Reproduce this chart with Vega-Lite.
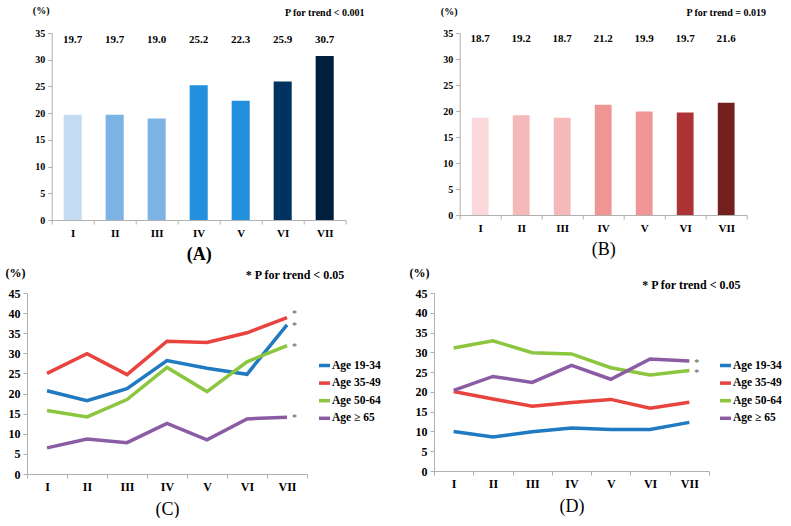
{
  "$schema": "https://vega.github.io/schema/vega-lite/v6.json",
  "background": "white",
  "padding": {"left": 5, "top": 5, "right": 0, "bottom": 0},
  "config": {
    "font": "Liberation Serif",
    "view": {"stroke": null},
    "text": {"font": "Liberation Serif"},
    "axis": {
      "grid": false,
      "domainColor": "#b0b0b0",
      "tickColor": "#b0b0b0",
      "tickSize": 4,
      "labelFont": "Liberation Serif",
      "labelFontWeight": "bold",
      "labelFontSize": 10,
      "labelColor": "#000000",
      "labelPadding": 3,
      "labelOverlap": false,
      "titleFont": "Liberation Serif",
      "titleColor": "#000000",
      "minExtent": 0
    },
    "axisX": {"labelAngle": 0, "tickBand": "extent", "labelFontSize": 11},
    "axisY": {"minExtent": 0, "labelOverlap": false},
    "legend": {
      "symbolType": "stroke",
      "symbolStrokeWidth": 3.5,
      "symbolSize": 121,
      "labelFont": "Liberation Serif",
      "labelFontWeight": "bold",
      "labelFontSize": 11.5,
      "labelColor": "#000000",
      "labelOffset": 0,
      "rowPadding": 2.6,
      "padding": 0
    }
  },
  "datasets": {
    "bars": [
      {"panel": "A", "cat": "I", "value": 19.7},
      {"panel": "A", "cat": "II", "value": 19.7},
      {"panel": "A", "cat": "III", "value": 19.0},
      {"panel": "A", "cat": "IV", "value": 25.2},
      {"panel": "A", "cat": "V", "value": 22.3},
      {"panel": "A", "cat": "VI", "value": 25.9},
      {"panel": "A", "cat": "VII", "value": 30.7},
      {"panel": "B", "cat": "I", "value": 18.7},
      {"panel": "B", "cat": "II", "value": 19.2},
      {"panel": "B", "cat": "III", "value": 18.7},
      {"panel": "B", "cat": "IV", "value": 21.2},
      {"panel": "B", "cat": "V", "value": 19.9},
      {"panel": "B", "cat": "VI", "value": 19.7},
      {"panel": "B", "cat": "VII", "value": 21.6}
    ],
    "notes": [
      {"panel": "A", "note": "P for trend < 0.001"},
      {"panel": "B", "note": "P for trend = 0.019"},
      {"panel": "C", "note": "* P for trend < 0.05"},
      {"panel": "D", "note": "* P for trend < 0.05"}
    ],
    "lines": [
      {"panel": "C", "group": "Age 19-34", "cat": "I", "value": 20.7, "sig": 1},
      {"panel": "C", "group": "Age 19-34", "cat": "II", "value": 18.2, "sig": 1},
      {"panel": "C", "group": "Age 19-34", "cat": "III", "value": 21.2, "sig": 1},
      {"panel": "C", "group": "Age 19-34", "cat": "IV", "value": 28.2, "sig": 1},
      {"panel": "C", "group": "Age 19-34", "cat": "V", "value": 26.3, "sig": 1},
      {"panel": "C", "group": "Age 19-34", "cat": "VI", "value": 24.8, "sig": 1},
      {"panel": "C", "group": "Age 19-34", "cat": "VII", "value": 37.1, "sig": 1},
      {"panel": "C", "group": "Age 35-49", "cat": "I", "value": 25.0, "sig": 1},
      {"panel": "C", "group": "Age 35-49", "cat": "II", "value": 29.9, "sig": 1},
      {"panel": "C", "group": "Age 35-49", "cat": "III", "value": 24.7, "sig": 1},
      {"panel": "C", "group": "Age 35-49", "cat": "IV", "value": 33.0, "sig": 1},
      {"panel": "C", "group": "Age 35-49", "cat": "V", "value": 32.7, "sig": 1},
      {"panel": "C", "group": "Age 35-49", "cat": "VI", "value": 35.1, "sig": 1},
      {"panel": "C", "group": "Age 35-49", "cat": "VII", "value": 38.9, "sig": 1},
      {"panel": "C", "group": "Age 50-64", "cat": "I", "value": 15.8, "sig": 1},
      {"panel": "C", "group": "Age 50-64", "cat": "II", "value": 14.2, "sig": 1},
      {"panel": "C", "group": "Age 50-64", "cat": "III", "value": 18.5, "sig": 1},
      {"panel": "C", "group": "Age 50-64", "cat": "IV", "value": 26.5, "sig": 1},
      {"panel": "C", "group": "Age 50-64", "cat": "V", "value": 20.5, "sig": 1},
      {"panel": "C", "group": "Age 50-64", "cat": "VI", "value": 27.9, "sig": 1},
      {"panel": "C", "group": "Age 50-64", "cat": "VII", "value": 31.9, "sig": 1},
      {"panel": "C", "group": "Age ≥ 65", "cat": "I", "value": 6.5, "sig": 1},
      {"panel": "C", "group": "Age ≥ 65", "cat": "II", "value": 8.7, "sig": 1},
      {"panel": "C", "group": "Age ≥ 65", "cat": "III", "value": 7.8, "sig": 1},
      {"panel": "C", "group": "Age ≥ 65", "cat": "IV", "value": 12.6, "sig": 1},
      {"panel": "C", "group": "Age ≥ 65", "cat": "V", "value": 8.5, "sig": 1},
      {"panel": "C", "group": "Age ≥ 65", "cat": "VI", "value": 13.7, "sig": 1},
      {"panel": "C", "group": "Age ≥ 65", "cat": "VII", "value": 14.1, "sig": 1},
      {"panel": "D", "group": "Age 19-34", "cat": "I", "value": 10.0, "sig": 0},
      {"panel": "D", "group": "Age 19-34", "cat": "II", "value": 8.6, "sig": 0},
      {"panel": "D", "group": "Age 19-34", "cat": "III", "value": 9.9, "sig": 0},
      {"panel": "D", "group": "Age 19-34", "cat": "IV", "value": 10.9, "sig": 0},
      {"panel": "D", "group": "Age 19-34", "cat": "V", "value": 10.5, "sig": 0},
      {"panel": "D", "group": "Age 19-34", "cat": "VI", "value": 10.5, "sig": 0},
      {"panel": "D", "group": "Age 19-34", "cat": "VII", "value": 12.3, "sig": 0},
      {"panel": "D", "group": "Age 35-49", "cat": "I", "value": 20.1, "sig": 0},
      {"panel": "D", "group": "Age 35-49", "cat": "II", "value": 18.2, "sig": 0},
      {"panel": "D", "group": "Age 35-49", "cat": "III", "value": 16.4, "sig": 0},
      {"panel": "D", "group": "Age 35-49", "cat": "IV", "value": 17.3, "sig": 0},
      {"panel": "D", "group": "Age 35-49", "cat": "V", "value": 18.1, "sig": 0},
      {"panel": "D", "group": "Age 35-49", "cat": "VI", "value": 15.9, "sig": 0},
      {"panel": "D", "group": "Age 35-49", "cat": "VII", "value": 17.4, "sig": 0},
      {"panel": "D", "group": "Age 50-64", "cat": "I", "value": 31.1, "sig": 1},
      {"panel": "D", "group": "Age 50-64", "cat": "II", "value": 32.9, "sig": 1},
      {"panel": "D", "group": "Age 50-64", "cat": "III", "value": 29.9, "sig": 1},
      {"panel": "D", "group": "Age 50-64", "cat": "IV", "value": 29.6, "sig": 1},
      {"panel": "D", "group": "Age 50-64", "cat": "V", "value": 26.1, "sig": 1},
      {"panel": "D", "group": "Age 50-64", "cat": "VI", "value": 24.3, "sig": 1},
      {"panel": "D", "group": "Age 50-64", "cat": "VII", "value": 25.4, "sig": 1},
      {"panel": "D", "group": "Age ≥ 65", "cat": "I", "value": 20.4, "sig": 1},
      {"panel": "D", "group": "Age ≥ 65", "cat": "II", "value": 23.9, "sig": 1},
      {"panel": "D", "group": "Age ≥ 65", "cat": "III", "value": 22.4, "sig": 1},
      {"panel": "D", "group": "Age ≥ 65", "cat": "IV", "value": 26.7, "sig": 1},
      {"panel": "D", "group": "Age ≥ 65", "cat": "V", "value": 23.2, "sig": 1},
      {"panel": "D", "group": "Age ≥ 65", "cat": "VI", "value": 28.3, "sig": 1},
      {"panel": "D", "group": "Age ≥ 65", "cat": "VII", "value": 27.8, "sig": 1}
    ]
  },
  "center": true,
  "spacing": 3,
  "resolve": {"scale": {"color": "independent"}},
  "vconcat": [
    {
      "spacing": 74,
      "resolve": {"scale": {"color": "independent"}},
      "hconcat": [
        {
          "width": 294,
          "height": 187,
          "layer": [
            {
              "data": {"name": "bars"},
              "transform": [{"filter": "datum.panel === 'A'"}],
              "mark": {"type": "bar", "width": {"band": 0.43}},
              "encoding": {
                "x": {"field": "cat", "type": "ordinal", "scale": {"domain": ["I","II","III","IV","V","VI","VII"], "paddingInner": 0, "paddingOuter": 0},
                  "axis": {"title": "(A)", "titleFontSize": 18, "titleFontWeight": "bold", "titlePadding": 7}},
                "y": {"field": "value", "type": "quantitative", "scale": {"domain": [0, 35]},
                  "axis": {"values": [0,5,10,15,20,25,30,35], "title": "(%)", "titleAngle": 0, "titleAlign": "center", "titleBaseline": "middle", "titleX": -11, "titleY": -23, "titleFontSize": 10, "titleFontWeight": "bold"}},
                "color": {"field": "cat", "type": "ordinal", "scale": {"domain": ["I","II","III","IV","V","VI","VII"], "range": ["#c3dcf2","#7db3e4","#7db3e4","#2290dc","#2290dc","#003262","#001f3f"]}, "legend": null}
              }
            },
            {
              "data": {"name": "bars"},
              "transform": [{"filter": "datum.panel === 'A'"}],
              "mark": {"type": "text", "fontWeight": "bold", "fontSize": 11, "baseline": "middle", "dy": 7},
              "encoding": {
                "x": {"field": "cat", "type": "ordinal", "bandPosition": 0.5, "scale": {"domain": ["I","II","III","IV","V","VI","VII"], "paddingInner": 0, "paddingOuter": 0},
                  "axis": {"title": "(A)", "titleFontSize": 18, "titleFontWeight": "bold", "titlePadding": 7}},
                "y": {"datum": 35, "type": "quantitative",
                  "axis": {"values": [0,5,10,15,20,25,30,35], "title": "(%)", "titleAngle": 0, "titleAlign": "center", "titleBaseline": "middle", "titleX": -11, "titleY": -23, "titleFontSize": 10, "titleFontWeight": "bold"}},
                "text": {"field": "value", "type": "quantitative", "format": ".1f"}
              }
            },
            {
              "data": {"name": "notes"},
              "transform": [{"filter": "datum.panel === 'A'"}],
              "mark": {"type": "text", "fontWeight": "bold", "fontSize": 10, "baseline": "middle", "dy": -20},
              "encoding": {
                "x": {"datum": "VII", "type": "ordinal", "bandPosition": 0.5, "scale": {"domain": ["I","II","III","IV","V","VI","VII"], "paddingInner": 0, "paddingOuter": 0},
                  "axis": {"title": "(A)", "titleFontSize": 18, "titleFontWeight": "bold", "titlePadding": 7}},
                "y": {"datum": 35, "type": "quantitative",
                  "axis": {"values": [0,5,10,15,20,25,30,35], "title": "(%)", "titleAngle": 0, "titleAlign": "center", "titleBaseline": "middle", "titleX": -11, "titleY": -23, "titleFontSize": 10, "titleFontWeight": "bold"}},
                "text": {"field": "note"}
              }
            }
          ]
        },
        {
          "width": 287,
          "height": 182,
          "layer": [
            {
              "data": {"name": "bars"},
              "transform": [{"filter": "datum.panel === 'B'"}],
              "mark": {"type": "bar", "width": {"band": 0.41}},
              "encoding": {
                "x": {"field": "cat", "type": "ordinal", "scale": {"domain": ["I","II","III","IV","V","VI","VII"], "paddingInner": 0, "paddingOuter": 0},
                  "axis": {"title": "(B)", "titleFontSize": 18, "titleFontWeight": "normal", "titlePadding": 7}},
                "y": {"field": "value", "type": "quantitative", "scale": {"domain": [0, 35]},
                  "axis": {"values": [0,5,10,15,20,25,30,35], "title": "(%)", "titleAngle": 0, "titleAlign": "center", "titleBaseline": "middle", "titleX": -11, "titleY": -22, "titleFontSize": 10, "titleFontWeight": "bold"}},
                "color": {"field": "cat", "type": "ordinal", "scale": {"domain": ["I","II","III","IV","V","VI","VII"], "range": ["#fbd9da","#f6b9b9","#f6b9b9","#ef9694","#ef9694","#ad3436","#73201f"]}, "legend": null}
              }
            },
            {
              "data": {"name": "bars"},
              "transform": [{"filter": "datum.panel === 'B'"}],
              "mark": {"type": "text", "fontWeight": "bold", "fontSize": 11, "baseline": "middle", "dy": 6},
              "encoding": {
                "x": {"field": "cat", "type": "ordinal", "bandPosition": 0.5, "scale": {"domain": ["I","II","III","IV","V","VI","VII"], "paddingInner": 0, "paddingOuter": 0},
                  "axis": {"title": "(B)", "titleFontSize": 18, "titleFontWeight": "normal", "titlePadding": 7}},
                "y": {"datum": 35, "type": "quantitative",
                  "axis": {"values": [0,5,10,15,20,25,30,35], "title": "(%)", "titleAngle": 0, "titleAlign": "center", "titleBaseline": "middle", "titleX": -11, "titleY": -22, "titleFontSize": 10, "titleFontWeight": "bold"}},
                "text": {"field": "value", "type": "quantitative", "format": ".1f"}
              }
            },
            {
              "data": {"name": "notes"},
              "transform": [{"filter": "datum.panel === 'B'"}],
              "mark": {"type": "text", "fontWeight": "bold", "fontSize": 10, "baseline": "middle", "dy": -20},
              "encoding": {
                "x": {"datum": "VII", "type": "ordinal", "bandPosition": 0.5, "scale": {"domain": ["I","II","III","IV","V","VI","VII"], "paddingInner": 0, "paddingOuter": 0},
                  "axis": {"title": "(B)", "titleFontSize": 18, "titleFontWeight": "normal", "titlePadding": 7}},
                "y": {"datum": 35, "type": "quantitative",
                  "axis": {"values": [0,5,10,15,20,25,30,35], "title": "(%)", "titleAngle": 0, "titleAlign": "center", "titleBaseline": "middle", "titleX": -11, "titleY": -22, "titleFontSize": 10, "titleFontWeight": "bold"}},
                "text": {"field": "note"}
              }
            }
          ]
        }
      ]
    },
    {
      "spacing": 28,
      "resolve": {"scale": {"color": "independent"}},
      "hconcat": [
        {
          "width": 280,
          "height": 181,
          "layer": [
            {
              "data": {"name": "lines"},
              "transform": [{"filter": "datum.panel === 'C'"}],
              "mark": {"type": "line", "strokeWidth": 3.5},
              "encoding": {
                "x": {"field": "cat", "type": "ordinal", "bandPosition": 0.5, "scale": {"type": "band", "domain": ["I","II","III","IV","V","VI","VII"], "paddingInner": 0, "paddingOuter": 0},
                  "axis": {"title": "(C)", "titleFontSize": 18, "titleFontWeight": "normal", "titlePadding": 8, "labelFontSize": 12}},
                "y": {"field": "value", "type": "quantitative", "scale": {"domain": [0, 45]},
                  "axis": {"values": [0,5,10,15,20,25,30,35,40,45], "labelFontSize": 12, "title": "(%)", "titleAngle": 0, "titleAlign": "center", "titleBaseline": "middle", "titleX": -12, "titleY": -21, "titleFontSize": 12, "titleFontWeight": "bold"}},
                "color": {"field": "group", "type": "nominal", "scale": {"domain": ["Age 19-34","Age 35-49","Age 50-64","Age ≥ 65"], "range": ["#1f7ac2","#e8433e","#8cc63e","#8b5ca4"]},
                  "legend": {"title": null, "orient": "none", "legendX": 290, "legendY": 65}}
              }
            },
            {
              "data": {"name": "lines"},
              "transform": [{"filter": "datum.panel === 'C' && datum.cat === 'VII' && datum.sig === 1 && datum.group !== 'Age 35-49'"}],
              "mark": {"type": "text", "fontSize": 10, "fill": "#555555", "align": "left", "baseline": "middle", "dx": 5, "dy": 1},
              "encoding": {
                "x": {"field": "cat", "type": "ordinal", "bandPosition": 0.5, "scale": {"type": "band", "domain": ["I","II","III","IV","V","VI","VII"], "paddingInner": 0, "paddingOuter": 0},
                  "axis": {"title": "(C)", "titleFontSize": 18, "titleFontWeight": "normal", "titlePadding": 8, "labelFontSize": 12}},
                "y": {"field": "value", "type": "quantitative",
                  "axis": {"values": [0,5,10,15,20,25,30,35,40,45], "labelFontSize": 12, "title": "(%)", "titleAngle": 0, "titleAlign": "center", "titleBaseline": "middle", "titleX": -12, "titleY": -21, "titleFontSize": 12, "titleFontWeight": "bold"}},
                "text": {"value": "*"}
              }
            },
            {
              "data": {"name": "lines"},
              "transform": [{"filter": "datum.panel === 'C' && datum.cat === 'VII' && datum.sig === 1 && datum.group === 'Age 35-49'"}],
              "mark": {"type": "text", "fontSize": 10, "fill": "#555555", "align": "left", "baseline": "middle", "dx": 5, "dy": -4},
              "encoding": {
                "x": {"field": "cat", "type": "ordinal", "bandPosition": 0.5, "scale": {"type": "band", "domain": ["I","II","III","IV","V","VI","VII"], "paddingInner": 0, "paddingOuter": 0},
                  "axis": {"title": "(C)", "titleFontSize": 18, "titleFontWeight": "normal", "titlePadding": 8, "labelFontSize": 12}},
                "y": {"field": "value", "type": "quantitative",
                  "axis": {"values": [0,5,10,15,20,25,30,35,40,45], "labelFontSize": 12, "title": "(%)", "titleAngle": 0, "titleAlign": "center", "titleBaseline": "middle", "titleX": -12, "titleY": -21, "titleFontSize": 12, "titleFontWeight": "bold"}},
                "text": {"value": "*"}
              }
            },
            {
              "data": {"name": "notes"},
              "transform": [{"filter": "datum.panel === 'C'"}],
              "mark": {"type": "text", "fontWeight": "bold", "fontSize": 12, "baseline": "middle", "dx": 8, "dy": -18},
              "encoding": {
                "x": {"datum": "VII", "type": "ordinal", "bandPosition": 0.5, "scale": {"type": "band", "domain": ["I","II","III","IV","V","VI","VII"], "paddingInner": 0, "paddingOuter": 0},
                  "axis": {"title": "(C)", "titleFontSize": 18, "titleFontWeight": "normal", "titlePadding": 8, "labelFontSize": 12}},
                "y": {"datum": 45, "type": "quantitative",
                  "axis": {"values": [0,5,10,15,20,25,30,35,40,45], "labelFontSize": 12, "title": "(%)", "titleAngle": 0, "titleAlign": "center", "titleBaseline": "middle", "titleX": -12, "titleY": -21, "titleFontSize": 12, "titleFontWeight": "bold"}},
                "text": {"field": "note"}
              }
            }
          ]
        },
        {
          "width": 275,
          "height": 178,
          "layer": [
            {
              "data": {"name": "lines"},
              "transform": [{"filter": "datum.panel === 'D'"}],
              "mark": {"type": "line", "strokeWidth": 3.5},
              "encoding": {
                "x": {"field": "cat", "type": "ordinal", "bandPosition": 0.5, "scale": {"type": "band", "domain": ["I","II","III","IV","V","VI","VII"], "paddingInner": 0, "paddingOuter": 0},
                  "axis": {"title": "(D)", "titleFontSize": 18, "titleFontWeight": "normal", "titlePadding": 8, "labelFontSize": 12}},
                "y": {"field": "value", "type": "quantitative", "scale": {"domain": [0, 45]},
                  "axis": {"values": [0,5,10,15,20,25,30,35,40,45], "labelFontSize": 12, "title": "(%)", "titleAngle": 0, "titleAlign": "center", "titleBaseline": "middle", "titleX": -15, "titleY": -21, "titleFontSize": 12, "titleFontWeight": "bold"}},
                "color": {"field": "group", "type": "nominal", "scale": {"domain": ["Age 19-34","Age 35-49","Age 50-64","Age ≥ 65"], "range": ["#1f7ac2","#e8433e","#8cc63e","#8b5ca4"]},
                  "legend": {"title": null, "orient": "none", "legendX": 275, "legendY": 56, "padding": 9}}
              }
            },
            {
              "data": {"name": "lines"},
              "transform": [{"filter": "datum.panel === 'D' && datum.cat === 'VII' && datum.sig === 1"}],
              "mark": {"type": "text", "fontSize": 10, "fill": "#555555", "align": "left", "baseline": "middle", "dx": 5, "dy": 2},
              "encoding": {
                "x": {"field": "cat", "type": "ordinal", "bandPosition": 0.5, "scale": {"type": "band", "domain": ["I","II","III","IV","V","VI","VII"], "paddingInner": 0, "paddingOuter": 0},
                  "axis": {"title": "(D)", "titleFontSize": 18, "titleFontWeight": "normal", "titlePadding": 8, "labelFontSize": 12}},
                "y": {"field": "value", "type": "quantitative",
                  "axis": {"values": [0,5,10,15,20,25,30,35,40,45], "labelFontSize": 12, "title": "(%)", "titleAngle": 0, "titleAlign": "center", "titleBaseline": "middle", "titleX": -15, "titleY": -21, "titleFontSize": 12, "titleFontWeight": "bold"}},
                "text": {"value": "*"}
              }
            },
            {
              "data": {"name": "notes"},
              "transform": [{"filter": "datum.panel === 'D'"}],
              "mark": {"type": "text", "fontWeight": "bold", "fontSize": 12, "baseline": "middle", "dx": 2, "dy": -8},
              "encoding": {
                "x": {"datum": "VII", "type": "ordinal", "bandPosition": 0.5, "scale": {"type": "band", "domain": ["I","II","III","IV","V","VI","VII"], "paddingInner": 0, "paddingOuter": 0},
                  "axis": {"title": "(D)", "titleFontSize": 18, "titleFontWeight": "normal", "titlePadding": 8, "labelFontSize": 12}},
                "y": {"datum": 45, "type": "quantitative",
                  "axis": {"values": [0,5,10,15,20,25,30,35,40,45], "labelFontSize": 12, "title": "(%)", "titleAngle": 0, "titleAlign": "center", "titleBaseline": "middle", "titleX": -15, "titleY": -21, "titleFontSize": 12, "titleFontWeight": "bold"}},
                "text": {"field": "note"}
              }
            }
          ]
        }
      ]
    }
  ]
}
